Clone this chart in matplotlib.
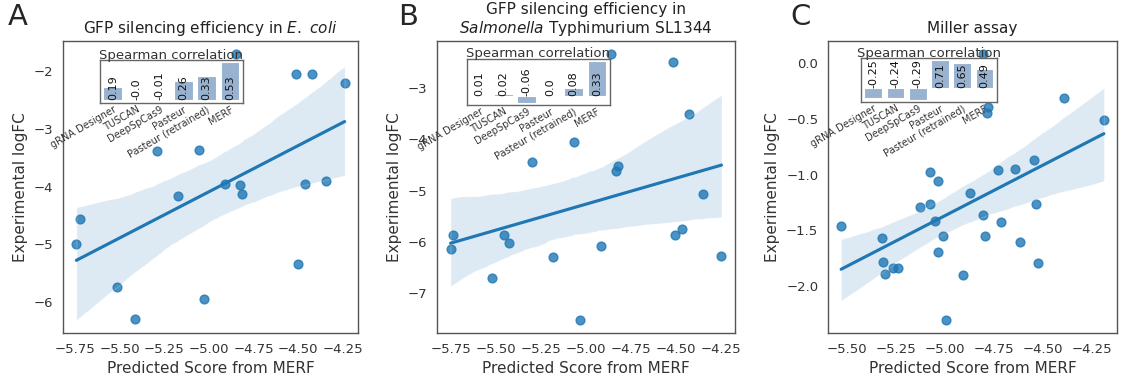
import numpy as np
import matplotlib
matplotlib.use("Agg")
import matplotlib.pyplot as plt
import seaborn as sns

# scatter data (predicted MERF score, experimental logFC)
ecoli_x = [-4.849, -4.513, -4.425, -4.240, -5.290, -5.057, -4.908, -4.827, -4.816,
           -5.172, -4.461, -4.343, -5.726, -5.744, -4.500, -5.517, -5.029, -5.415]
ecoli_y = [-1.712, -2.057, -2.057, -2.207, -3.379, -3.368, -3.953, -3.966, -4.132,
           -4.161, -3.960, -3.902, -4.569, -4.988, -5.340, -5.741, -5.948, -6.287]

salm_x = [-4.859, -4.515, -4.428, -5.067, -5.298, -4.820, -4.833, -4.348, -5.739, -5.456,
          -5.426, -5.754, -4.915, -4.507, -4.463, -5.182, -4.246, -5.526, -5.035]
salm_y = [-2.342, -2.493, -3.513, -4.054, -4.438, -4.522, -4.613, -5.062, -5.855, -5.855,
          -6.018, -6.135, -6.077, -5.868, -5.745, -6.298, -6.278, -6.701, -7.513]

miller_x = [-4.803, -4.389, -4.188, -4.779, -4.785, -4.545, -4.639, -4.730, -5.076, -5.034,
            -4.871, -5.126, -5.074, -4.533, -4.805, -5.050, -4.714, -5.528, -5.321, -5.009,
            -4.796, -4.614, -5.035, -5.317, -4.525, -5.263, -5.238, -5.304, -4.907, -4.991]
miller_y = [0.075, -0.319, -0.510, -0.397, -0.448, -0.871, -0.955, -0.961, -0.973, -1.062,
            -1.164, -1.290, -1.260, -1.263, -1.364, -1.418, -1.421, -1.463, -1.564, -1.552,
            -1.546, -1.600, -1.696, -1.785, -1.794, -1.836, -1.836, -1.887, -1.896, -2.298]

# spearman correlations shown in the insets
methods = ["gRNA Designer", "TUSCAN", "DeepSpCas9", "Pasteur", "Pasteur (retrained)", "MERF"]
ecoli_rho = [0.19, -0.0, -0.01, 0.26, 0.33, 0.53]
salm_rho = [0.01, 0.02, -0.06, 0.0, 0.08, 0.33]
miller_rho = [-0.25, -0.24, -0.29, 0.71, 0.65, 0.49]

titles = ["GFP silencing efficiency in $\\mathit{E.\\ coli}$",
          "GFP silencing efficiency in\n$\\mathit{Salmonella}$ Typhimurium SL1344",
          "Miller assay"]
letters = ["A", "B", "C"]

sns.set_style("white")
plt.rcParams["font.family"] = ["DejaVu Sans"]

W, H = 1123, 376
fig = plt.figure(figsize=(W / 100, H / 100), dpi=100)

# axes boxes in pixels: (left, right)
boxes = [(63, 358), (437, 735), (828, 1117)]
top, bottom = 41, 333
insets = [(0.125, 0.788, 0.485, 0.147), (0.10, 0.781, 0.48, 0.158), (0.114, 0.791, 0.47, 0.15)]
letter_x = [8, 398, 790]

data = [(ecoli_x, ecoli_y, ecoli_rho), (salm_x, salm_y, salm_rho), (miller_x, miller_y, miller_rho)]

for i, (xs, ys, rho) in enumerate(data):
    l, r = boxes[i]
    ax = fig.add_axes([l / W, 1 - bottom / H, (r - l) / W, (bottom - top) / H])
    sns.regplot(x=np.array(xs), y=np.array(ys), ax=ax, color="#1f77b4", seed=0,
                scatter_kws={"s": 40})
    ax.set_xlabel("Predicted Score from MERF", fontsize=11, color="#333333")
    ax.set_ylabel("Experimental logFC", fontsize=11, color="#333333")
    ax.set_title(titles[i], fontsize=11, color="#222222", linespacing=1.1)
    ax.tick_params(labelsize=9.5, colors="#333333")
    for s in ax.spines.values():
        s.set_color("#555555")
        s.set_linewidth(1.0)
    if i < 2:
        ax.set_xticks([-5.75, -5.5, -5.25, -5.0, -4.75, -4.5, -4.25])
    else:
        ax.set_xticks([-5.5, -5.25, -5.0, -4.75, -4.5, -4.25])

    # inset with spearman correlations
    ins = ax.inset_axes(insets[i])
    pos = np.arange(len(methods))
    ins.bar(pos, rho, width=0.8, color="#98b2cf", edgecolor="white", linewidth=0.8)
    for p, v in zip(pos, rho):
        ins.text(p, 0, str(v), rotation=90, ha="center", va="bottom", fontsize=8,
                 color="#111111")
    ins.set_xticks(pos)
    ins.set_xticklabels(methods, rotation=30, ha="right", rotation_mode="anchor",
                        fontsize=7, color="#333333")
    ins.tick_params(axis="x", pad=1, length=0)
    ins.set_yticks([])
    ins.set_xlim(-0.55, len(methods) - 0.45)
    ins.set_title("Spearman correlation", fontsize=9.5, color="#333333", pad=1)
    for s in ins.spines.values():
        s.set_color("#666666")
        s.set_linewidth(1.0)

    fig.text(letter_x[i] / W, 1 - 3 / H, letters[i], fontsize=21, va="top", ha="left")

fig.savefig("out.png", dpi=100)
